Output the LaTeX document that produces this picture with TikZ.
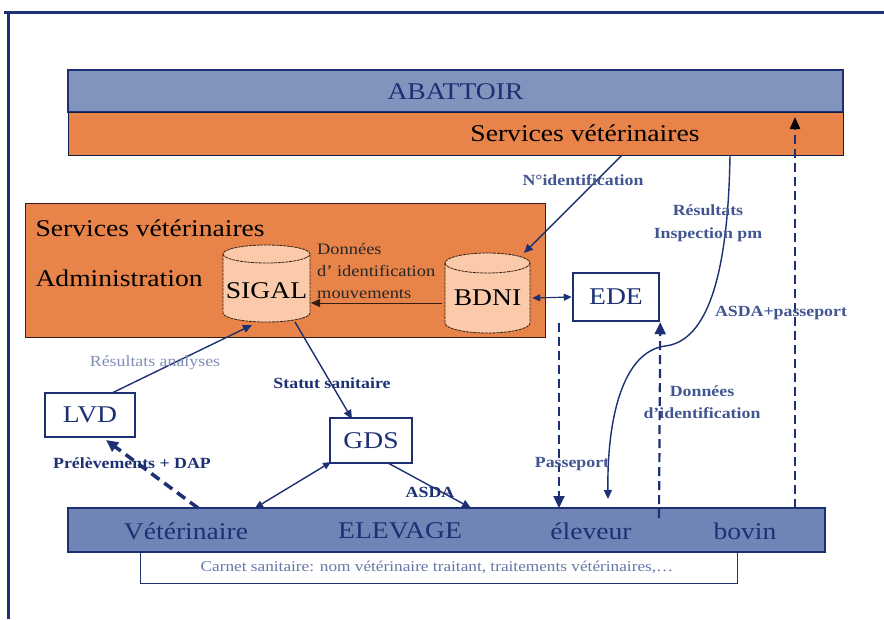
\documentclass[tikz,border=0pt]{standalone}
\usepackage{fontspec}
\setmainfont{Liberation Serif}[FakeStretch=1.15]
\usetikzlibrary{arrows.meta,calc}
\definecolor{navy}{RGB}{28,48,115}
\definecolor{lblue}{RGB}{65,85,145}
\definecolor{pale}{RGB}{128,142,185}
\definecolor{bartop}{RGB}{130,148,190}
\definecolor{barbot}{RGB}{112,133,182}
\definecolor{orng}{RGB}{232,132,74}
\definecolor{peach}{RGB}{250,202,170}
\definecolor{dkbrown}{RGB}{50,30,20}
\newcommand\dbcyl[5]{%
 \draw[cylst] (#1-#4,#2+#5) -- (#1-#4,#3-#5) arc[start angle=180,end angle=360,x radius=#4 pt,y radius=#5 pt] -- (#1+#4,#2+#5) arc[start angle=0,end angle=180,x radius=#4 pt,y radius=#5 pt] -- cycle;
 \draw[cylst,fill=none] (#1-#4,#2+#5) arc[start angle=180,end angle=360,x radius=#4 pt,y radius=#5 pt];
}
\tikzset{
 bigtxt/.style={font=\fontsize{24}{27}\selectfont},
 lbl/.style={font=\fontsize{15.5}{18}\selectfont\bfseries, text=lblue, inner sep=0pt},
 cylst/.style={draw=dkbrown, line width=0.8pt, dash pattern=on 3pt off 0.8pt, fill=peach},
 boxst/.style={draw=navy, line width=2.5pt, fill=white, inner sep=0pt, bigtxt, text=navy},
 conn/.style={draw=navy, line width=1.4pt},
 tip/.style={-{Triangle[length=9pt,width=8pt]}},
 bothtip/.style={{Triangle[length=8pt,width=7pt]}-{Triangle[length=8pt,width=7pt]}},
 dashconn/.style={draw=navy, line width=2.2pt, dash pattern=on 9pt off 5pt},
}
\begin{document}
\begin{tikzpicture}[x=1pt,y=-1pt]
\useasboundingbox (0,0) rectangle (884,619);
\fill[white] (0,0) rectangle (884,619);
% frame
\draw[navy, line width=3pt] (4,12) -- (884,12);
\draw[navy, line width=3pt] (8,12) -- (8,619);

% top bars
\node[draw=navy, line width=1.2pt, fill=bartop, minimum width=775pt, minimum height=42pt, inner sep=0pt] (abat) at (455.5,91) {};
\node[bigtxt, text=navy] (abattxt) at (455.5,92) {ABATTOIR};
\node[draw=navy!60!black, line width=0.6pt, fill=orng, minimum width=775pt, minimum height=43pt, inner sep=0pt] (svbar) at (455.5,133.5) {};
\node[bigtxt, text=black] (svtxt) at (585,133) {Services vétérinaires};

% admin box
\node[draw=dkbrown, line width=0.8pt, fill=orng, minimum width=520pt, minimum height=134pt, inner sep=0pt] (admin) at (285,270) {};
\node[bigtxt, anchor=west] (admtxtA) at (32,228) {Services vétérinaires};
\node[bigtxt, anchor=west] (admtxtB) at (32,278) {Administration};

% cylinders
\dbcyl{266.5}{245}{322}{43.5}{9}
\node[bigtxt, minimum width=87pt, minimum height=64pt, inner sep=0pt] (sigal) at (266.5,291) {SIGAL};
\dbcyl{487.5}{253}{333}{42.5}{10}
\node[bigtxt, minimum width=85pt, minimum height=60pt, inner sep=0pt] (bdni) at (487.5,298) {BDNI};

\node[font=\fontsize{16}{22}\selectfont, align=left, anchor=west, inner sep=0pt, text=black!85] (donnees) at (317,271) {Données\\d' identification\\mouvements};

% boxes
\node[boxst, minimum width=86pt, minimum height=48pt] (ede) at (616,297) {EDE};
\node[boxst, minimum width=90pt, minimum height=44pt] (lvd) at (90,415) {LVD};
\node[boxst, minimum width=82pt, minimum height=45pt] (gds) at (371,440.5) {GDS};

% bottom
\node[draw=navy, line width=1pt, fill=white, minimum width=597pt, minimum height=31pt, inner sep=0pt] (carnet) at (438.5,567.5) {};
\node[font=\fontsize{15}{17}\selectfont, text=pale!75!navy] (carnettxt) at (437,567) {Carnet sanitaire: nom vétérinaire traitant, traitements vétérinaires,\ldots};
\node[draw=navy, line width=1.5pt, fill=barbot, minimum width=757pt, minimum height=44pt, inner sep=0pt] (elev) at (446.5,530) {};
\node[bigtxt, text=navy] (veto) at (186,531) {Vétérinaire};
\node[bigtxt, text=navy] (elevtxt) at (400,531) {ELEVAGE};
\node[bigtxt, text=navy] (eleveur) at (591,531) {éleveur};
\node[bigtxt, text=navy] (bovin) at (745,531) {bovin};

% coordinates
\coordinate (nidA) at (622,155);
\coordinate (nidB) at (524,253);
\coordinate (resA) at (730,155);
\coordinate (resB) at (608,499);
\coordinate (asdpA) at (795,508);
\coordinate (asdpB) at (795,117);
\coordinate (passA) at (559,323);
\coordinate (passB) at (559,508);
\coordinate (didA) at (659,518);
\coordinate (bdniW) at (442,303);
\coordinate (sigE) at (311,303);
\coordinate (sigS) at (295,322);
\coordinate (sigSW) at (252,325);
\coordinate (gdsN) at (352,419);
\coordinate (lvdN) at (112,393);
\coordinate (gdsSW) at (331,462);
\coordinate (barV) at (255,508);
\coordinate (gdsSE) at (388,463);
\coordinate (barA) at (471,508);
\coordinate (barP) at (198,508);
\coordinate (lvdSE) at (106,440);

% connectors
\draw[conn, tip] (nidA) -- (nidB);
\draw[conn, tip] (resA) .. controls (728,290) and (702,342) .. (665,346) .. controls (622,352) and (607,420) .. (resB);
\draw[dashconn, draw=navy, -{Triangle[length=12pt,width=10pt,color=black]}] (asdpA) -- (asdpB);
\draw[dashconn, -{Triangle[length=12pt,width=11pt]}] (passA) -- (passB);
\draw[dashconn, -{Triangle[length=12pt,width=11pt]}] (didA) -- (ede.south east);
\draw[conn, bothtip, line width=1.2pt] (bdni.east) ++(2,0) -- (ede.west);
\draw[draw=dkbrown, line width=1pt, -{Triangle[length=9pt,width=8pt]}] (bdniW) -- (sigE);
\draw[conn, tip] (sigS) -- (gdsN);
\draw[conn, tip] (lvdN) -- (sigSW);
\draw[conn, bothtip] (gdsSW) -- (barV);
\draw[conn, tip] (gdsSE) -- (barA);
\draw[draw=navy, line width=3.5pt, dash pattern=on 10pt off 6pt, -{Triangle[length=12pt,width=11pt]}] (barP) -- (lvdSE);

% labels
\node[lbl] (lnid) at (583,180) {N°identification};
\node[lbl, align=center, font=\fontsize{15.5}{23}\selectfont\bfseries] (lres) at (708,223) {Résultats\\Inspection pm};
\node[lbl] (lasdp) at (781,313) {ASDA+passeport};
\node[lbl] (lpass) at (572,464) {Passeport};
\node[lbl, align=center, font=\fontsize{15.5}{22}\selectfont\bfseries] (ldid) at (702,402) {Données\\d'identification};
\node[lbl, text=navy] (lstat) at (332,383) {Statut sanitaire};
\node[lbl, font=\fontsize{15.5}{18}\selectfont, text=pale] (lres2) at (155,363) {Résultats analyses};
\node[lbl, text=navy] (lprel) at (132,463) {Prélèvements + DAP};
\node[lbl, text=navy] (lasda) at (430,492) {ASDA};
\end{tikzpicture}
\end{document}
